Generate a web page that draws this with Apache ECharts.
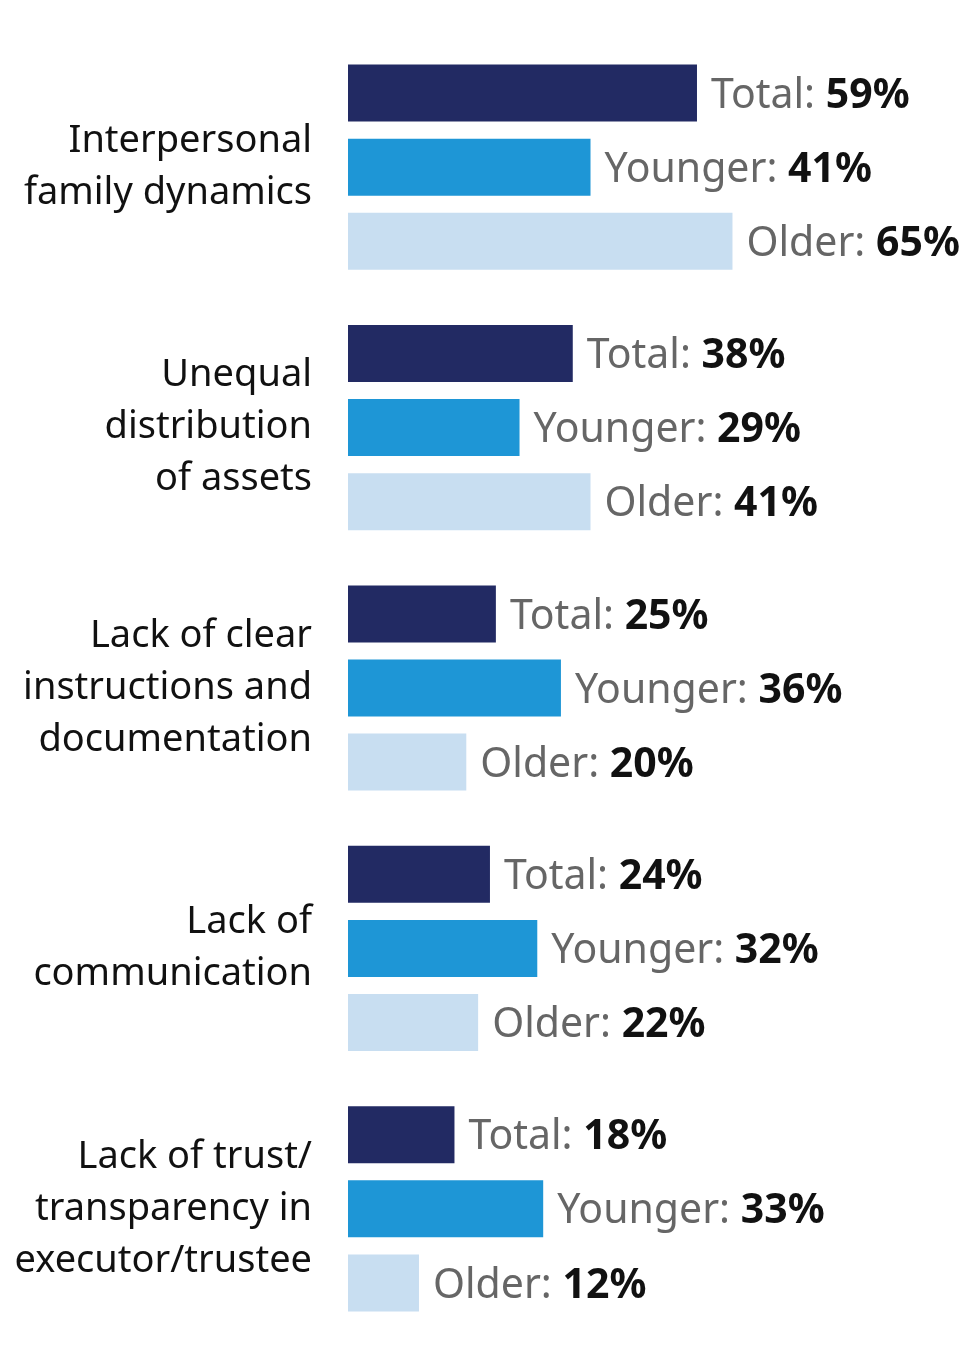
<!DOCTYPE html>
<html>
<head>
<meta charset="utf-8">
<script src="https://cdn.jsdelivr.net/npm/echarts@6/dist/echarts.min.js"></script>
<style>html,body{margin:0;padding:0;background:#fff;}#c{width:980px;height:1366px;}</style>
</head>
<body>
<div id="c"></div>
<script>
const categories = [
  "Interpersonal\nfamily dynamics",
  "Unequal\ndistribution\nof assets",
  "Lack of clear\ninstructions and\ndocumentation",
  "Lack of\ncommunication",
  "Lack of trust/\ntransparency in\nexecutor/trustee"
];
const seriesNames = ["Total", "Younger", "Older"];
const totalValues = [59, 38, 25, 24, 18];
const youngerValues = [41, 29, 36, 32, 33];
const olderValues = [65, 41, 20, 22, 12];
const colors = ["#222a63", "#1e96d6", "#c8def1"];
const FONT = "Noto Sans";

function mk(name, data, color) {
  return {
    name: name,
    type: "bar",
    data: data,
    barWidth: 57,
    barGap: "30%",
    itemStyle: { color: color },
    label: {
      show: true,
      position: "right",
      distance: 14,
      offset: [0, 3],
      formatter: p => "{a|" + name + ": }{b|" + p.value + "%}",
      rich: {
        a: { fontFamily: FONT, fontSize: 41, color: "#666666" },
        b: { fontFamily: FONT, fontSize: 41, color: "#111111", fontWeight: "bold" }
      }
    },
    silent: true
  };
}

const chart = echarts.init(document.getElementById("c"), null, { renderer: "canvas" });
chart.setOption({
  animation: false,
  backgroundColor: "#ffffff",
  grid: { left: 348, top: 37, width: 591.5, height: 1302 },
  xAxis: { type: "value", min: 0, max: 100, show: false },
  yAxis: {
    type: "category",
    data: categories,
    inverse: true,
    axisLine: { show: false },
    axisTick: { show: false },
    splitLine: { show: false },
    axisLabel: {
      margin: 36,
      fontFamily: FONT,
      fontSize: 38,
      lineHeight: 52,
      color: "#111111",
      align: "right"
    }
  },
  series: [
    mk(seriesNames[0], totalValues, colors[0]),
    mk(seriesNames[1], youngerValues, colors[1]),
    mk(seriesNames[2], olderValues, colors[2])
  ]
});
</script>
</body>
</html>
